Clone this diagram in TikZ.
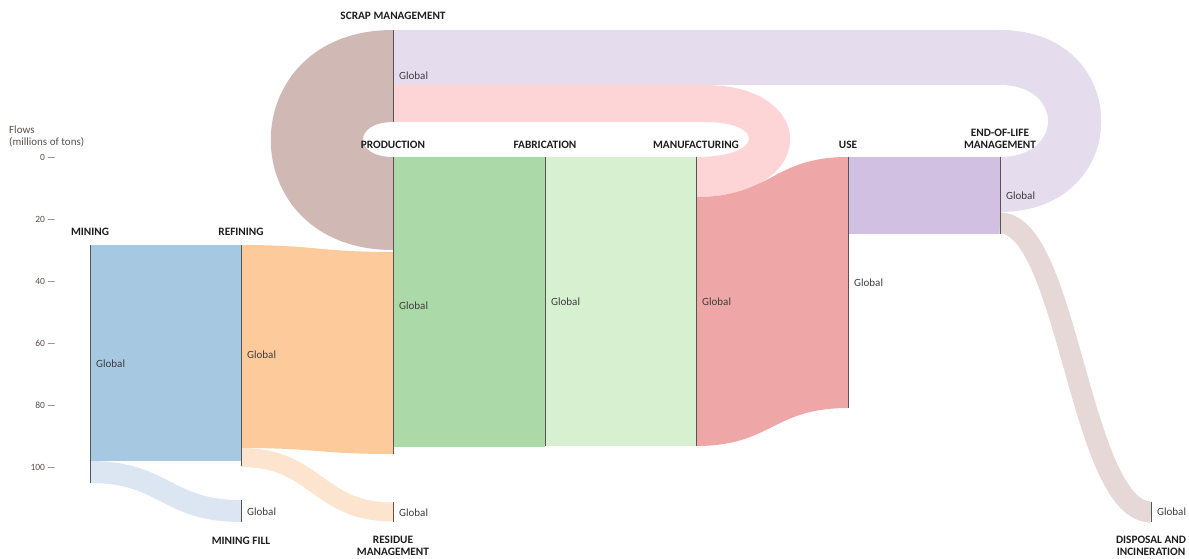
\documentclass[tikz,border=0pt]{standalone}
\usepackage{fontspec}
\setmainfont{Carlito}
\definecolor{blueM}{RGB}{166,200,224}
\definecolor{blueF}{RGB}{220,230,243}
\definecolor{orangeR}{RGB}{253,202,155}
\definecolor{orangeF}{RGB}{253,228,206}
\definecolor{greenP}{RGB}{171,217,168}
\definecolor{greenF}{RGB}{214,240,208}
\definecolor{redM}{RGB}{234,144,144}
\definecolor{pinkL}{RGB}{253,213,214}
\definecolor{lavU}{RGB}{210,192,227}
\definecolor{lavL}{RGB}{229,221,238}
\definecolor{brownS}{RGB}{208,185,180}
\definecolor{brownD}{RGB}{230,216,215}
\definecolor{barC}{RGB}{85,85,85}
\definecolor{txtC}{RGB}{30,30,30}
\definecolor{glbC}{RGB}{60,60,60}
\definecolor{axC}{RGB}{90,80,75}
\tikzset{
  bar/.style={draw=barC, line width=1pt},
  stage/.style={font=\fontsize{11.3}{12}\selectfont\bfseries, text=txtC, inner sep=0pt, align=center},
  glb/.style={font=\fontsize{11}{12}\selectfont, text=glbC, inner sep=0pt, anchor=west},
  tick/.style={font=\fontsize{9.5}{11}\selectfont, text=axC, inner sep=0pt, anchor=east},
  axlab/.style={font=\fontsize{11}{11}\selectfont, text=axC, inner sep=0pt, anchor=west},
  band/.style={line cap=butt}
}
\begin{document}
\begin{tikzpicture}[x=1pt,y=-1pt]
\useasboundingbox (0,0) rectangle (1189,559);
% node bar ends
\coordinate (mineT) at (90,245);   \coordinate (mineB) at (90,483);
\coordinate (refT) at (241,245);   \coordinate (refB) at (241,466);
\coordinate (prodT) at (393,157);  \coordinate (prodB) at (393,454);
\coordinate (scrT) at (393,30);    \coordinate (scrB) at (393,122);
\coordinate (fabT) at (545,157);   \coordinate (fabB) at (545,446);
\coordinate (manT) at (696,157);   \coordinate (manB) at (696,446);
\coordinate (useT) at (848,157);   \coordinate (useB) at (848,408);
\coordinate (eolT) at (1000,157);  \coordinate (eolB) at (1000,234);
\coordinate (fillT) at (241,500);  \coordinate (fillB) at (241,522);
\coordinate (resT) at (393,502);   \coordinate (resB) at (393,522);
\coordinate (dispT) at (1151,502); \coordinate (dispB) at (1151,522);

% loops
\fill[lavL] (393,30) -- (1000,30) .. controls (1135,30) and (1135,212) .. (1000,212)
  -- (1000,157) .. controls (1064,157) and (1064,85) .. (1000,85) -- (393,85) -- cycle;
\fill[pinkL] (393,85) -- (705,85) .. controls (820,85) and (820,197) .. (696,197)
  -- (696,157) .. controls (765,157) and (765,122) .. (705,122) -- (393,122) -- cycle;
\fill[brownS] (393,30) .. controls (230,30) and (230,250) .. (393,250)
  -- (393,157) .. controls (353,157) and (353,122) .. (393,122) -- cycle;

% flows
\fill[blueM] (90,245) rectangle (241,461);
\draw[band, blueF, line width=22pt] (90,472) .. controls (165,472) and (166,511) .. (241,511);
\fill[orangeR] (241,245) .. controls (317,245) and (317,252) .. (393,252)
  -- (393,454) .. controls (317,454) and (317,448) .. (241,448) -- cycle;
\draw[band, orangeF, line width=19pt] (241,457.5) .. controls (317,457.5) and (317,512) .. (393,512);
\fill[greenP] (393,157) rectangle (545,447);
\fill[greenF] (545,157) rectangle (696,446);
\fill[redM, fill opacity=0.8] (696,197) .. controls (772,197) and (772,157) .. (848,157)
  -- (848,408) .. controls (772,408) and (772,446) .. (696,446) -- cycle;
\fill[lavU] (848,157) rectangle (1000,234);
\draw[band, brownD, line width=21pt] (1000,223) .. controls (1068,223) and (1080,512) .. (1151,512);

% bars
\draw[bar] (mineT) -- (mineB);
\draw[bar] (refT) -- (refB);
\draw[bar] (prodT) -- (prodB);
\draw[bar] (scrT) -- (scrB);
\draw[bar] (fabT) -- (fabB);
\draw[bar] (manT) -- (manB);
\draw[bar] (useT) -- (useB);
\draw[bar] (eolT) -- (eolB);
\draw[bar] (fillT) -- (fillB);
\draw[bar] (resT) -- (resB);
\draw[bar] (dispT) -- (dispB);

% stage labels
\node[stage] (lscr) at (393,16) {SCRAP MANAGEMENT};
\node[stage] (lprod) at (393,145) {PRODUCTION};
\node[stage] (lfab) at (545,145) {FABRICATION};
\node[stage] (lman) at (696,145) {MANUFACTURING};
\node[stage] (luse) at (848,145) {USE};
\node[stage] (leol) at (1000,139) {END-OF-LIFE\\MANAGEMENT};
\node[stage] (lmine) at (90,232) {MINING};
\node[stage] (lref) at (241,232) {REFINING};
\node[stage] (lfill) at (241,541) {MINING FILL};
\node[stage] (lres) at (393,546) {RESIDUE\\MANAGEMENT};
\node[stage] (ldisp) at (1151,546) {DISPOSAL AND\\INCINERATION};

% Global labels
\node[glb] (gscr) at (399,76) {Global};
\node[glb] (gprod) at (399,306) {Global};
\node[glb] (gfab) at (551,302) {Global};
\node[glb] (gman) at (702,302) {Global};
\node[glb] (guse) at (854,283) {Global};
\node[glb] (geol) at (1006,196) {Global};
\node[glb] (gmine) at (96,364) {Global};
\node[glb] (gref) at (247,355) {Global};
\node[glb] (gfill) at (247,512) {Global};
\node[glb] (gres) at (399,513) {Global};
\node[glb] (gdisp) at (1157,512) {Global};

% axis
\node[axlab] (axa) at (9,130) {Flows};
\node[axlab] (axb) at (9,142) {(millions of tons)};
\node[tick] (t0) at (56,157) {0 —};
\node[tick] (t20) at (56,219) {20 —};
\node[tick] (t40) at (56,281) {40 —};
\node[tick] (t60) at (56,343) {60 —};
\node[tick] (t80) at (56,405) {80 —};
\node[tick] (t100) at (56,467) {100 —};
\end{tikzpicture}
\end{document}
